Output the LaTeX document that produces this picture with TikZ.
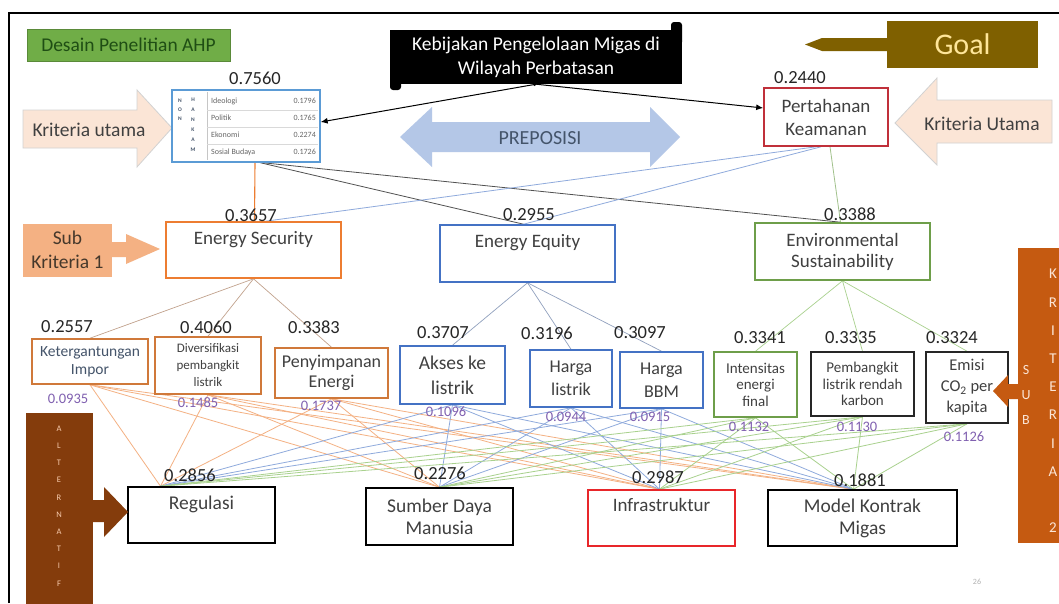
\documentclass[tikz,border=0pt]{standalone}
\usepackage{fontspec}
\setmainfont{Carlito}
\usetikzlibrary{arrows.meta}
\pgfdeclarelayer{back}
\pgfdeclarelayer{bg}
\pgfsetlayers{back,bg,main}
\definecolor{numc}{HTML}{262626}
\definecolor{txt}{HTML}{404040}
\definecolor{purp}{HTML}{8060B0}
\definecolor{skc}{HTML}{F4B183}
\definecolor{altc}{HTML}{843C0C}
\definecolor{alttxt}{HTML}{F8CBAD}
\definecolor{sktc}{HTML}{C55A11}
\definecolor{goalc}{HTML}{7F6000}
\definecolor{goalt}{HTML}{FFE699}
\definecolor{peach}{HTML}{FBE5D6}
\definecolor{prepc}{HTML}{B4C7E7}
\definecolor{prept}{HTML}{44546A}
\definecolor{dgreen}{HTML}{70AD47}
\definecolor{ddgreen}{HTML}{1F4E14}
\definecolor{pkc}{HTML}{C0303A}
\definecolor{infc}{HTML}{E8262A}
\definecolor{esc}{HTML}{ED7D31}
\definecolor{subo}{HTML}{D0793A}
\definecolor{eec}{HTML}{4472C4}
\definecolor{envc}{HTML}{6E9E4A}
\definecolor{tblc}{HTML}{5B9BD5}
\definecolor{lo}{HTML}{F4B183}
\definecolor{lb}{HTML}{8FAADC}
\definecolor{lg}{HTML}{A9D18E}
\begin{document}
\begin{tikzpicture}[x=1pt,y=-1pt,
  bx/.style={draw, line width=1.6pt, fill=white, inner sep=2pt, align=center, text=txt},
  num/.style={font=\fontsize{18.5}{18.5}\selectfont, text=numc, inner sep=0pt},
  pv/.style={font=\fontsize{14.5}{14.5}\selectfont, text=purp, inner sep=0pt},
  tt/.style={inner sep=0pt, align=center, text=txt},
  tcell/.style={font=\fontsize{8}{8}\selectfont, text=gray!80!black, inner sep=0pt},
  lnk/.style={line width=0.8pt}]
\useasboundingbox (0,0) rectangle (1059,603);
\begin{pgfonlayer}{back}
\fill[white] (0,0) rectangle (1059,603);
\end{pgfonlayer}
% frame
\draw[black, line width=2pt] (9,603) -- (9,13) -- (1059,13);

% title box
\node[fill=dgreen, draw=dgreen!80!black, minimum width=203pt, minimum height=32pt, inner sep=0pt,
  font=\fontsize{19.5}{19.5}\selectfont, text=ddgreen] (desain) at (128.5,45) {Desain Penelitian AHP};

% goal
\fill[goalc] (887,38) -- (822,38) -- (805,44.5) -- (822,51) -- (887,51) -- cycle;
\node[fill=goalc, minimum width=151pt, minimum height=47pt, inner sep=0pt,
  font=\fontsize{30}{30}\selectfont, text=goalt] (goal) at (962.5,44.5) {Goal};

% policy box
\fill[black, rounded corners=3pt] (390,40) rectangle (401,90);
\fill[black, rounded corners=3pt] (671,22) rectangle (682,45);
\node[fill=black, minimum width=292pt, minimum height=54pt, inner sep=0pt, align=center,
  font=\fontsize{19.5}{24}\selectfont, text=white] (keb) at (536,57) {Kebijakan Pengelolaan Migas di\\Wilayah Perbatasan};

% Kriteria utama arrows
\draw[draw=gray!35, fill=peach, line width=0.8pt] (23,110) -- (137,110) -- (137,90) -- (172,128) -- (137,167) -- (137,148) -- (23,148) -- cycle;
\node[tt, font=\fontsize{19.5}{19.5}\selectfont] (ku1) at (89,130) {Kriteria utama};
\draw[draw=gray!35, fill=peach, line width=0.8pt] (1052,100) -- (937,100) -- (937,78) -- (895,123) -- (937,165) -- (937,143) -- (1052,143) -- cycle;
\node[tt, font=\fontsize{19.5}{19.5}\selectfont] (ku2) at (982,124) {Kriteria Utama};

% preposisi
\fill[prepc] (400,137) -- (432,107) -- (432,122) -- (650,122) -- (650,107) -- (680,137) -- (650,167) -- (650,152) -- (432,152) -- (432,167) -- cycle;
\node[tt, text=prept, font=\fontsize{20}{20}\selectfont] (prep) at (540,138) {PREPOSISI};

% table box
\node[draw=tblc, line width=1.3pt, fill=white, minimum width=148pt, minimum height=72pt, inner sep=0pt] (tbl) at (246,126) {};
\draw[gray!45, line width=0.5pt] (207,92) -- (207,160);
\foreach \yy in {110,127,144} \draw[gray!30, line width=0.5pt] (207,\yy) -- (318,\yy);
\node[inner sep=0pt, align=center, font=\fontsize{5.5}{9}\selectfont\bfseries, text=prept] (nonc) at (180,110) {N\\O\\N};
\node[inner sep=0pt, align=center, font=\fontsize{5.5}{10}\selectfont\bfseries, text=prept] (hankc) at (193,125) {H\\A\\N\\K\\A\\M};
\node[tcell, anchor=west] (tl1) at (211,101) {Ideologi};
\node[tcell, anchor=west] (tl2) at (211,118) {Politik};
\node[tcell, anchor=west] (tl3) at (211,135) {Ekonomi};
\node[tcell, anchor=west] (tl4) at (211,152) {Sosial Budaya};
\node[tcell, anchor=east] (tv1) at (316,101) {0.1796};
\node[tcell, anchor=east] (tv2) at (316,118) {0.1765};
\node[tcell, anchor=east] (tv3) at (316,135) {0.2274};
\node[tcell, anchor=east] (tv4) at (316,152) {0.1726};
\node[num] (w0) at (255,78) {0.7560};

% Pertahanan Keamanan
\node[bx, draw=pkc, minimum width=124pt, minimum height=58pt, font=\fontsize{19}{23}\selectfont] (pk) at (826,117) {Pertahanan\\Keamanan};
\node[num] (w1) at (800,78) {0.2440};

% sub kriteria 1
\node[fill=skc, minimum width=89pt, minimum height=53pt, inner sep=0pt, align=center,
  font=\fontsize{19.5}{24}\selectfont, text=numc!80!brown] (sk1) at (67.5,250) {Sub\\Kriteria 1};
\fill[skc] (112,242) -- (126,242) -- (126,234) -- (160,249) -- (126,264) -- (126,257) -- (112,257) -- cycle;

% criteria
\node[bx, draw=esc, minimum width=175pt, minimum height=56pt] (es) at (253.5,250) {};
\node[tt, font=\fontsize{19}{19}\selectfont, anchor=north] (est) at ([yshift=-10pt]es.north) {Energy Security};
\node[num] (wes) at (251,215) {0.3657};
\node[bx, draw=eec, minimum width=175pt, minimum height=57pt] (ee) at (527.5,253.5) {};
\node[tt, font=\fontsize{19}{19}\selectfont, anchor=north] (eet) at ([yshift=-10pt]ee.north) {Energy Equity};
\node[num] (wee) at (529,215) {0.2955};
\node[bx, draw=envc, minimum width=175pt, minimum height=57pt, font=\fontsize{19}{21}\selectfont] (env) at (842.5,251.5) {Environmental\\Sustainability};
\node[num] (wenv) at (850,214) {0.3388};

% sub-criteria
\node[bx, draw=subo, minimum width=116pt, minimum height=45pt, font=\fontsize{15.5}{18}\selectfont, text=prept] (ket) at (90,361.5) {Ketergantungan\\Impor};
\node[bx, draw=subo, minimum width=106pt, minimum height=57pt, font=\fontsize{13}{17}\selectfont] (div) at (208,365.5) {Diversifikasi\\pembangkit\\listrik};
\node[bx, draw=subo, minimum width=113pt, minimum height=50pt, font=\fontsize{18}{20}\selectfont] (pen) at (331.5,373) {Penyimpanan\\Energi};
\node[bx, draw=eec, minimum width=105pt, minimum height=58pt, font=\fontsize{19.5}{25}\selectfont] (akses) at (452.5,375) {Akses ke\\listrik};
\node[bx, draw=eec, minimum width=82pt, minimum height=57pt, font=\fontsize{18}{23}\selectfont] (hl) at (571,378.5) {Harga\\listrik};
\node[bx, draw=eec, minimum width=83pt, minimum height=56pt, font=\fontsize{18}{23}\selectfont] (hb) at (661.5,380) {Harga\\BBM};
\node[bx, draw=envc, minimum width=83pt, minimum height=65pt, font=\fontsize{15}{16.5}\selectfont] (ief) at (755.5,384.5) {Intensitas\\energi\\final};
\node[bx, draw=numc, minimum width=103pt, minimum height=64pt, font=\fontsize{15}{16.5}\selectfont] (plrk) at (862.5,384) {Pembangkit\\listrik rendah\\karbon};
\node[bx, draw=numc, minimum width=82pt, minimum height=71pt, font=\fontsize{16.5}{21}\selectfont] (emisi) at (967,387.5) {Emisi\\CO\textsubscript{2} per\\kapita};

\node[num] (wket) at (67,327) {0.2557};
\node[num] (wdiv) at (206,327) {0.4060};
\node[num] (wpen) at (314,327) {0.3383};
\node[num] (wak) at (443,333) {0.3707};
\node[num] (whl) at (547,333) {0.3196};
\node[num] (whb) at (640,333) {0.3097};
\node[num] (wief) at (760,338) {0.3341};
\node[num] (wpl) at (851,338) {0.3335};
\node[num] (wem) at (952,338) {0.3324};

\node[pv] (gket) at (68,399) {0.0935};
\node[pv] (gdiv) at (198,403) {0.1485};
\node[pv] (gpen) at (321,406) {0.1737};
\node[pv] (gak) at (446,412) {0.1096};
\node[pv] (ghl) at (566,417) {0.0944};
\node[pv] (ghb) at (650,417) {0.0915};
\node[pv] (gief) at (749,427) {0.1132};
\node[pv] (gpl) at (857,427) {0.1130};
\node[pv] (gem) at (964,437) {0.1126};

% alternatives
\node[bx, draw=black, minimum width=147pt, minimum height=56pt] (reg) at (201.5,515) {};
\node[tt, font=\fontsize{19.5}{19.5}\selectfont, anchor=north] (regt) at ([yshift=-10pt]reg.north) {Regulasi};
\node[bx, draw=black, minimum width=147pt, minimum height=57pt, font=\fontsize{19.5}{22}\selectfont] (sdm) at (439.5,516.5) {Sumber Daya\\Manusia};
\node[bx, draw=infc, minimum width=147pt, minimum height=56pt] (inf) at (661.5,518) {};
\node[tt, font=\fontsize{19}{19}\selectfont, anchor=north] (inft) at ([yshift=-9pt]inf.north) {Infrastruktur};
\node[bx, draw=black, minimum width=189pt, minimum height=56pt, font=\fontsize{19.5}{22}\selectfont] (mkm) at (862.5,518) {Model Kontrak\\Migas};
\node[num] (wreg) at (190,475) {0.2856};
\node[num] (wsdm) at (440,473) {0.2276};
\node[num] (winf) at (658,477) {0.2987};
\node[num] (wmkm) at (860,480) {0.1881};

% ALTERNATIF side box
\node[fill=altc, minimum width=67pt, minimum height=192pt, inner sep=0pt] (alt) at (59.5,509) {};
\node[inner sep=0pt, align=center, font=\fontsize{8.5}{17.2}\selectfont, text=alttxt] (altl) at (59,506) {A\\L\\T\\E\\R\\N\\A\\T\\I\\F};
\fill[altc] (93,500) -- (104,500) -- (104,487) -- (128,512) -- (104,537) -- (104,522) -- (93,522) -- cycle;

% SUB KRITERIA 2 side box
\node[fill=sktc, minimum width=50pt, minimum height=295pt, inner sep=0pt] (sk2) at (1043,395.5) {};
\node[inner sep=0pt, align=center, font=\fontsize{15}{28.2}\selectfont, text=peach] (sk2a) at (1053,401) {K\\R\\I\\T\\E\\R\\I\\A\\\mbox{}\\2};
\node[inner sep=0pt, align=center, font=\fontsize{14}{25}\selectfont, text=peach] (sk2b) at (1026,395) {S\\U\\B};
\fill[sktc] (1019,384) -- (1008,384) -- (1008,375) -- (993,391) -- (1008,407) -- (1008,399) -- (1019,399) -- cycle;

% page number
\node[inner sep=0pt, font=\fontsize{8}{8}\selectfont, text=gray!60] (pg) at (977,582) {26};

% connectors
\begin{pgfonlayer}{bg}
\draw[black, line width=1pt, {Circle[length=3pt]}-{Latex[length=7pt,width=6pt]}] (keb.south) -- ([yshift=4pt]tbl.east);
\draw[black, line width=1pt, -{Latex[length=7pt,width=6pt]}] (keb.south) -- ([yshift=9pt]pk.west);
\draw[esc, line width=1.1pt] ([xshift=9pt]tbl.south) -- ([xshift=1pt]es.north);
\draw[numc!80, lnk] ([xshift=14pt]tbl.south) -- ([xshift=-4pt]ee.north);
\draw[numc!80, lnk] ([xshift=16pt]tbl.south) -- ([xshift=-2pt]env.north);
\draw[lb, lnk] ([xshift=-10pt]pk.south) -- ([xshift=12pt]es.north);
\draw[lb, lnk] ([xshift=-5pt]pk.south) -- ([xshift=-4pt]ee.north);
\draw[lg!80!gray, lnk] ([xshift=4pt]pk.south) -- ([xshift=-2pt]env.north);
% criteria to sub-criteria
\foreach \s in {ket,div,pen} \draw[subo!50!gray!70, line width=0.7pt] (es.south) -- (\s.north);
\foreach \s in {akses,hl,hb} \draw[eec!50!gray!70, line width=0.7pt] (ee.south) -- (\s.north);
\foreach \s in {ief,plrk,emisi} \draw[lg, line width=0.7pt] (env.south) -- (\s.north);
% sub-criteria to alternatives
\coordinate (ra) at ([xshift=-41pt]reg.north);
\coordinate (sa) at (sdm.north);
\coordinate (ia) at ([xshift=-2pt]inf.north);
\coordinate (ma) at ([xshift=-9pt]mkm.north);
\foreach \s in {ket,div,pen} \foreach \t in {ra,sa,ia,ma} \draw[lo, line width=0.8pt] (\s.south) -- (\t);
\foreach \s in {akses,hl,hb} \foreach \t in {ra,sa,ia,ma} \draw[lb, line width=0.8pt] (\s.south) -- (\t);
\foreach \s in {ief,plrk,emisi} \foreach \t in {ra,sa,ia,ma} \draw[lg, line width=0.8pt] (\s.south) -- (\t);
\end{pgfonlayer}
\end{tikzpicture}
\end{document}
